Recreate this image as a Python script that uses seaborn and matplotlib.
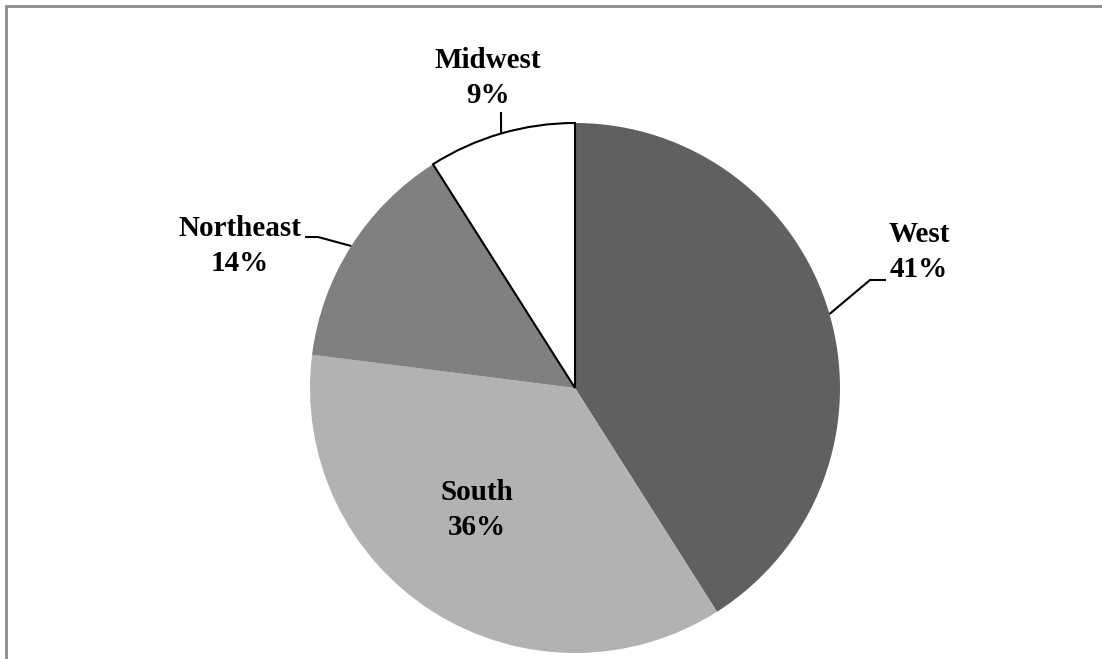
import numpy as np
import matplotlib
matplotlib.use('Agg')
import matplotlib.pyplot as plt
import seaborn as sns

# data
regions = ['West', 'South', 'Northeast', 'Midwest']
shares = [41, 36, 14, 9]
colors = ['#606060', '#b2b2b2', '#808080', '#ffffff']

sns.set_theme(style='white')
plt.rcParams['font.family'] = ['Liberation Serif', 'DejaVu Serif']

W, H = 1102, 659
fig = plt.figure(figsize=(W / 100, H / 100), dpi=100)
ax = fig.add_axes([0, 0, 1, 1])

# pie in pixel coordinates (y measured up)
cx, cy, r = 575, H - 388, 265
wedges, _ = ax.pie(shares, colors=colors, startangle=90, counterclock=False,
                   center=(cx, cy), radius=r, frame=True,
                   wedgeprops={'linewidth': 0})
wedges[3].set_edgecolor('black')
wedges[3].set_linewidth(1.5)
ax.set_xlim(0, W)
ax.set_ylim(0, H)
ax.set_aspect('equal')
ax.axis('off')

font = dict(fontsize=21, fontweight='bold', ha='center', va='center',
            color='black', linespacing=1.38)

# label layout: text centre (top-down px) and leader elbow/end points
layout = {
    'West': dict(text=(919, 252), leader=[(870, 280), (886, 280)]),
    'South': dict(text=(477, 510), leader=None),
    'Northeast': dict(text=(240, 246), leader=[(318, 237), (305, 237)]),
    'Midwest': dict(text=(488, 78), leader=[(501, 112)]),
}

cum = np.cumsum([0] + shares)
total = sum(shares)
for i, name in enumerate(regions):
    mid = 90 - 360 * (cum[i] + shares[i] / 2) / total
    ax_x = cx + r * np.cos(np.radians(mid))
    ax_y = cy + r * np.sin(np.radians(mid))
    lay = layout[name]
    if lay['leader']:
        pts = [(ax_x, ax_y)] + [(x, H - y) for x, y in lay['leader']]
        ax.plot([p[0] for p in pts], [p[1] for p in pts], color='black',
                lw=1.5, solid_capstyle='butt')
    tx, ty = lay['text']
    ax.text(tx, H - ty, f'{name}\n{shares[i]}%', **font)

# chart frame (top and left edges visible)
ax.plot([6, 6, W], [0, H - 6, H - 6], color='#8c8c8c', lw=2,
        solid_joinstyle='miter', clip_on=False)

fig.savefig('out.png', dpi=100)
